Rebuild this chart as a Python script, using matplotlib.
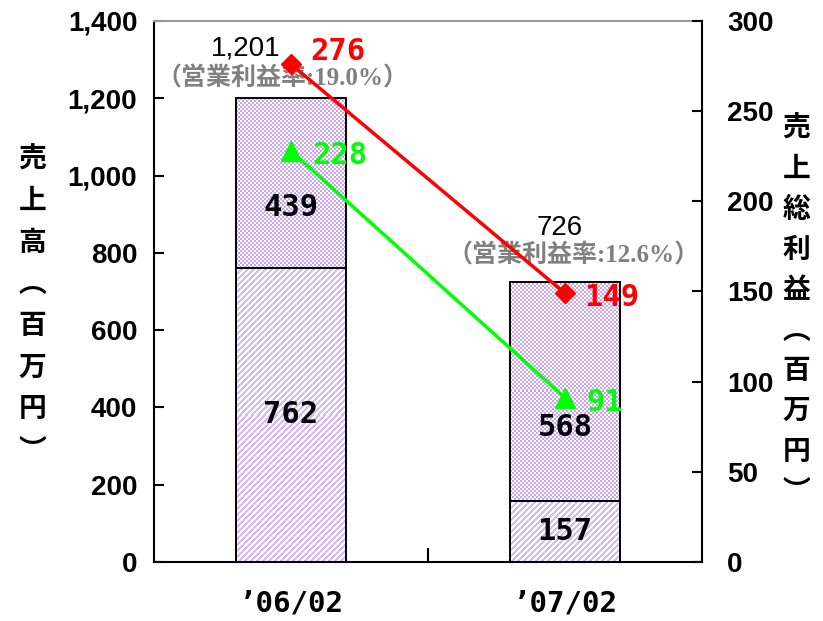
import numpy as np
import matplotlib
matplotlib.use('Agg')
import matplotlib.pyplot as plt
from matplotlib.ticker import FuncFormatter

# sales split (million yen) and gross profit per period
periods = ['\u201906/02', '\u201907/02']
sales_lower = [762, 157]
sales_upper = [439, 568]
sales_total = [1201, 726]
gross_profit = [276, 149]
operating_profit = [228, 91]
margin_labels = ['\uff08営業利益率:19.0%\uff09', '\uff08営業利益率:12.6%\uff09']

CJK = 'Noto Sans CJK JP'
CHECK_COLOR = '#c9a3f7'
STRIPE_COLOR = '#d8b9fa'

fig = plt.figure(figsize=(8.23, 6.21), dpi=100)
ax = fig.add_axes([0.1871, 0.095, 0.666, 0.8712])
ax.set_xlim(-0.5, 1.5)
ax.set_ylim(0, 1400)
x = np.arange(len(periods))
width = 0.4


def pattern_fill(ax, x0, x1, y0, y1, kind, color):
    # fill a bar segment with a pixel pattern (checker or diagonal stripes)
    (px0, py0), (px1, py1) = ax.transData.transform([(x0, y0), (x1, y1)])
    nx = max(int(round(abs(px1 - px0))), 1)
    ny = max(int(round(abs(py1 - py0))), 1)
    cols, rows = np.meshgrid(np.arange(nx), np.arange(ny))
    if kind == 'check':
        mask = ((cols // 2) + (rows // 2)) % 2 == 0
    else:
        mask = ((cols + rows) // 3) % 2 == 0
    rgb = np.ones((ny, nx, 3))
    rgb[mask] = matplotlib.colors.to_rgb(color)
    ax.imshow(rgb, extent=(x0, x1, y0, y1), origin='upper', aspect='auto',
              interpolation='none', zorder=1)


for i in range(len(periods)):
    pattern_fill(ax, x[i] - width / 2, x[i] + width / 2, 0, sales_lower[i], 'stripe', STRIPE_COLOR)
    pattern_fill(ax, x[i] - width / 2, x[i] + width / 2, sales_lower[i],
                 sales_lower[i] + sales_upper[i], 'check', CHECK_COLOR)

ax.bar(x, sales_lower, width=width, facecolor='none', edgecolor='black', lw=1.4, zorder=3)
ax.bar(x, sales_upper, width=width, bottom=sales_lower, facecolor='none',
       edgecolor='black', lw=1.4, zorder=3)
ax.set_xlim(-0.5, 1.5)
ax.set_ylim(0, 1400)

# segment values
num_font = dict(family='DejaVu Sans Mono', fontweight='bold', fontsize=22)
upper_label_y = [918, 349]
for i in range(len(periods)):
    ax.text(x[i], sales_lower[i] / 2, str(sales_lower[i]), ha='center', va='center',
            zorder=4, **num_font)
    ax.text(x[i], upper_label_y[i], str(sales_upper[i]), ha='center', va='center',
            zorder=4, **num_font)

# totals and operating margin
total_pos = [(-0.165, 1330), (0.98, 864)]
margin_pos = [(-0.03, 1250), (1.03, 794)]
for i in range(len(periods)):
    ax.text(total_pos[i][0], total_pos[i][1], f'{sales_total[i]:,}', ha='center', va='center',
            family='Liberation Sans', fontsize=20, color='black')
    ax.text(margin_pos[i][0], margin_pos[i][1], margin_labels[i], ha='center', va='center',
            family=['Liberation Serif', CJK], fontweight='bold', fontsize=18, color='#808080')

# axes styling
for side in ['left', 'bottom']:
    ax.spines[side].set_linewidth(1.5)
ax.spines['top'].set_color('#999999')
ax.spines['top'].set_linewidth(1.5)
ax.spines['right'].set_visible(False)
ax.set_yticks(range(0, 1401, 200))
ax.yaxis.set_major_formatter(FuncFormatter(lambda v, p: f'{int(v):,}'))
ax.tick_params(axis='y', direction='in', length=7, width=1.5, pad=12)
for lab in ax.get_yticklabels():
    lab.set_family('Liberation Sans')
    lab.set_fontweight('bold')
    lab.set_fontsize(20)
ax.set_xticks(x)
ax.set_xticklabels(periods, family='DejaVu Sans Mono', fontweight='bold', fontsize=21)
ax.tick_params(axis='x', which='major', length=0, pad=20)
ax.set_xticks([0.5], minor=True)
ax.tick_params(axis='x', which='minor', direction='in', length=10, width=1.5)

ax.set_ylabel('\n'.join('売上高\ufe35百万円\ufe36'), rotation=0, family=CJK,
              fontweight='bold', fontsize=20, linespacing=1.62, va='center', ha='center')
ax.yaxis.set_label_coords(-0.222, 0.475)

# profit lines on the secondary axis
ax2 = ax.twinx()
ax2.set_ylim(0, 300)
ax2.plot(x, gross_profit, color='#ff0000', lw=2.5, marker='D', markersize=10, zorder=5)
ax2.plot(x, operating_profit, color='#00ff00', lw=2.5, marker='^', markersize=14, zorder=5)
for i in range(len(periods)):
    dy = 9 if i == 0 else -3
    ax2.annotate(str(gross_profit[i]), (x[i], gross_profit[i]), xytext=(14, dy),
                 textcoords='offset points', ha='left', va='center', color='#ff0000', **num_font)
    ax2.annotate(str(operating_profit[i]), (x[i], operating_profit[i]), xytext=(15, -3),
                 textcoords='offset points', ha='left', va='center', color='#00ff00', **num_font)

for side in ['left', 'top', 'bottom']:
    ax2.spines[side].set_visible(False)
ax2.spines['right'].set_linewidth(1.5)
ax2.set_yticks(range(0, 301, 50))
ax2.tick_params(axis='y', direction='in', length=7, width=1.5, pad=18)
for lab in ax2.get_yticklabels():
    lab.set_family('Liberation Sans')
    lab.set_fontweight('bold')
    lab.set_fontsize(20)
ax2.set_ylabel('\n'.join('売上総利益\ufe35百万円\ufe36'), rotation=0, family=CJK,
               fontweight='bold', fontsize=20, linespacing=1.56, va='center', ha='center')
ax2.yaxis.set_label_coords(1.172, 0.465)

fig.savefig('out.png', dpi=100)
